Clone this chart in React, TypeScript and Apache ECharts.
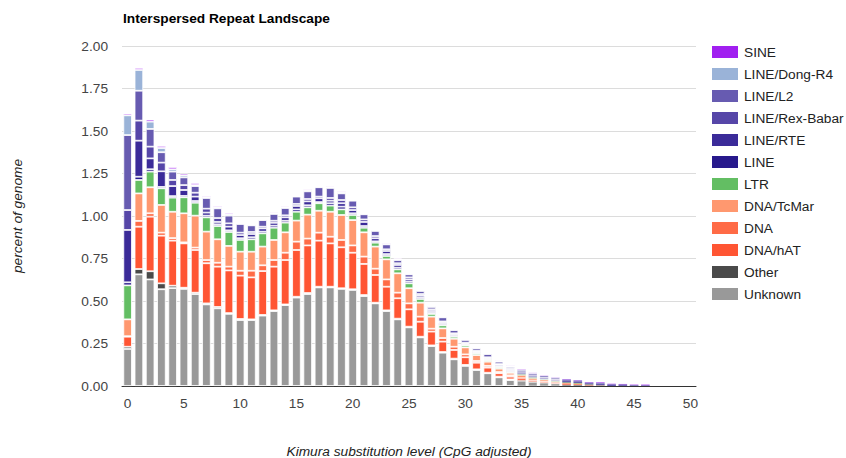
import React, { useEffect, useRef } from "react";
import * as echarts from "echarts";

// Kimura substitution level bins 0..50
const kimuraBins: string[] = Array.from({ length: 51 }, (_, i) => String(i));

// Percent of genome per repeat class, one value per bin (bottom of stack first)
const unknown = [
  0.218, 0.657, 0.627, 0.569, 0.576, 0.571, 0.541, 0.48, 0.457, 0.424,
  0.388, 0.388, 0.414, 0.441, 0.476, 0.52, 0.541, 0.58, 0.58, 0.571,
  0.565, 0.529, 0.486, 0.441, 0.392, 0.345, 0.286, 0.235, 0.196, 0.157,
  0.118, 0.094, 0.075, 0.051, 0.035, 0.029, 0.022, 0.018, 0.013, 0.008,
  0.006, 0.003, 0.002, 0, 0, 0, 0, 0, 0, 0, 0,
];
const other = [
  0.013, 0.031, 0.048, 0.035, 0.014, 0.007, 0.008, 0.006, 0.008, 0.005,
  0.006, 0.004, 0.004, 0.004, 0.004, 0.005, 0.006, 0.004, 0.004, 0.004,
  0.004, 0.006, 0.004, 0.004, 0.004, 0.004, 0.004, 0.004, 0.004, 0.004,
  0.006, 0.004, 0.003, 0.004, 0.004, 0.004, 0.003, 0.002, 0, 0,
  0, 0, 0, 0, 0, 0, 0, 0, 0, 0, 0,
];
const dnaHAT = [
  0.059, 0.249, 0.321, 0.28, 0.265, 0.261, 0.251, 0.236, 0.237, 0.251,
  0.255, 0.247, 0.258, 0.257, 0.261, 0.275, 0.28, 0.271, 0.255, 0.241,
  0.215, 0.183, 0.163, 0.139, 0.12, 0.102, 0.088, 0.081, 0.061, 0.051,
  0.045, 0.039, 0.03, 0.02, 0.016, 0.01, 0.006, 0.005, 0.004, 0.004,
  0.003, 0.002, 0.001, 0, 0, 0, 0, 0, 0, 0, 0,
];
const dna = [
  0.003, 0.034, 0.02, 0.018, 0.015, 0.006, 0.014, 0.019, 0.023, 0.022,
  0.029, 0.039, 0.034, 0.039, 0.043, 0.049, 0.04, 0.047, 0.039, 0.043,
  0.043, 0.043, 0.037, 0.043, 0.033, 0.035, 0.03, 0.017, 0.021, 0.019,
  0.017, 0.01, 0.01, 0.007, 0.008, 0.006, 0.004, 0.003, 0.003, 0.002,
  0.002, 0, 0, 0, 0, 0, 0, 0, 0, 0, 0,
];
const dnaTcMar = [
  0.099, 0.162, 0.153, 0.163, 0.155, 0.171, 0.188, 0.167, 0.138, 0.122,
  0.112, 0.112, 0.11, 0.118, 0.12, 0.124, 0.141, 0.129, 0.147, 0.147,
  0.149, 0.143, 0.13, 0.118, 0.114, 0.089, 0.082, 0.071, 0.057, 0.047,
  0.041, 0.035, 0.025, 0.02, 0.015, 0.014, 0.01, 0.008, 0.006, 0.005,
  0.004, 0.003, 0.001, 0, 0, 0, 0, 0, 0, 0, 0,
];
const ltr = [
  0.2, 0.079, 0.092, 0.098, 0.083, 0.094, 0.076, 0.084, 0.078, 0.082,
  0.069, 0.073, 0.078, 0.072, 0.057, 0.052, 0.043, 0.044, 0.036, 0.033,
  0.03, 0.027, 0.023, 0.02, 0.023, 0.029, 0.022, 0.016, 0.018, 0.012,
  0.012, 0.01, 0.008, 0.008, 0.006, 0.006, 0.006, 0.004, 0.004, 0.003,
  0.003, 0.002, 0.001, 0, 0, 0, 0, 0, 0, 0, 0,
];
const line = [
  0.018, 0.019, 0.014, 0.008, 0.009, 0.008, 0.01, 0.01, 0.01, 0.01,
  0.01, 0.012, 0.01, 0.012, 0.011, 0.014, 0.012, 0.007, 0.014, 0.016,
  0.01, 0.01, 0.008, 0.011, 0.01, 0.01, 0.01, 0.007, 0.008, 0.006,
  0.006, 0.006, 0.006, 0.006, 0.006, 0.006, 0.004, 0.003, 0.003, 0.003,
  0.003, 0.002, 0.003, 0.002, 0.002, 0, 0, 0, 0, 0, 0,
];
const lineRTE = [
  0.308, 0.212, 0.064, 0.092, 0.059, 0.035, 0.026, 0.018, 0.014, 0.021,
  0.019, 0.019, 0.019, 0.017, 0.02, 0.02, 0.023, 0.022, 0.015, 0.02,
  0.019, 0.024, 0.018, 0.018, 0.016, 0.013, 0.011, 0.01, 0.008, 0.008,
  0.006, 0.006, 0.006, 0.008, 0.006, 0.005, 0.006, 0.005, 0.004, 0.004,
  0.004, 0.003, 0.004, 0.004, 0.003, 0.002, 0.002, 0, 0, 0, 0,
];
const lineRexBabar = [
  0.117, 0.118, 0.069, 0.051, 0.036, 0.029, 0.023, 0.023, 0.023, 0.02,
  0.014, 0.012, 0.01, 0.012, 0.012, 0.012, 0.014, 0.01, 0.016, 0.019,
  0.016, 0.015, 0.013, 0.01, 0.01, 0.012, 0.008, 0.01, 0.007, 0.006,
  0.004, 0.004, 0.006, 0.005, 0.006, 0.004, 0.004, 0.004, 0.003, 0.003,
  0.002, 0.002, 0.002, 0.002, 0.002, 0.001, 0, 0, 0, 0, 0,
];
const lineL2 = [
  0.441, 0.176, 0.104, 0.061, 0.049, 0.045, 0.039, 0.063, 0.057, 0.045,
  0.051, 0.039, 0.039, 0.04, 0.043, 0.043, 0.045, 0.055, 0.059, 0.039,
  0.039, 0.03, 0.03, 0.029, 0.019, 0.018, 0.018, 0.014, 0.024, 0.019,
  0.016, 0.014, 0.019, 0.014, 0.01, 0.008, 0.008, 0.008, 0.007, 0.005,
  0.004, 0.003, 0.003, 0.003, 0.003, 0.003, 0.003, 0, 0, 0, 0,
];
const lineDongR4 = [
  0.116, 0.122, 0.043, 0.025, 0.014, 0.012, 0.006, 0.006, 0.006, 0.008,
  0.004, 0.004, 0.004, 0.004, 0.004, 0.004, 0.006, 0.004, 0.004, 0.006,
  0.004, 0.004, 0.006, 0.004, 0.004, 0.004, 0.004, 0.006, 0.004, 0.004,
  0.004, 0.003, 0.004, 0.004, 0.004, 0.004, 0.002, 0.002, 0.003, 0.002,
  0.002, 0.001, 0.002, 0, 0, 0, 0, 0, 0, 0, 0,
];
const sine = [
  0.01, 0.012, 0.012, 0.012, 0.013, 0.01, 0.012, 0.008, 0.008, 0.008,
  0.004, 0.004, 0.004, 0.006, 0.006, 0.005, 0.006, 0.003, 0.006, 0.006,
  0.004, 0.004, 0.004, 0.006, 0.006, 0.004, 0.004, 0.004, 0.004, 0.004,
  0.003, 0.004, 0.004, 0.006, 0.006, 0.004, 0.003, 0.003, 0.003, 0.002,
  0.002, 0.002, 0.003, 0.002, 0.002, 0.002, 0.003, 0, 0, 0, 0,
];

// Stack order, bottom to top
const repeatClasses: { name: string; color: string; values: number[] }[] = [
  { name: "Unknown", color: "#999999", values: unknown },
  { name: "Other", color: "#4a4a4a", values: other },
  { name: "DNA/hAT", color: "#ff5533", values: dnaHAT },
  { name: "DNA", color: "#ff6b46", values: dna },
  { name: "DNA/TcMar", color: "#ff986f", values: dnaTcMar },
  { name: "LTR", color: "#63be63", values: ltr },
  { name: "LINE", color: "#27198c", values: line },
  { name: "LINE/RTE", color: "#3b2b99", values: lineRTE },
  { name: "LINE/Rex-Babar", color: "#5646a8", values: lineRexBabar },
  { name: "LINE/L2", color: "#675bb1", values: lineL2 },
  { name: "LINE/Dong-R4", color: "#9ab3d8", values: lineDongR4 },
  { name: "SINE", color: "#a11ff0", values: sine },
];

const FONT = 'Arial, "Liberation Sans", sans-serif';
const FS = 13.7;

// total height of each bin's stack, used to thin the outlines on short bars
const binTotals = kimuraBins.map((_, i) =>
  repeatClasses.reduce((s, c) => s + c.values[i], 0)
);

function outlineWidth(total: number): number {
  if (total < 0.05) return 0;
  if (total < 0.12) return 0.3;
  return 0.8;
}

export default function App() {
  const ref = useRef<HTMLDivElement>(null);

  useEffect(() => {
    if (!ref.current) return;
    const chart = echarts.init(ref.current, undefined, { renderer: "svg" });
    chart.setOption({
      animation: false,
      backgroundColor: "#ffffff",
      textStyle: { fontFamily: FONT },
      title: {
        text: "Interspersed Repeat Landscape",
        left: 118,
        top: 6,
        textStyle: { fontSize: FS, fontWeight: "bold", color: "#000", fontFamily: FONT },
      },
      legend: {
        orient: "vertical",
        left: 705,
        top: 39,
        itemWidth: 28,
        itemHeight: 14,
        itemGap: 6,
        icon: "rect",
        data: repeatClasses.map((c) => c.name).reverse(),
        textStyle: { fontSize: FS, color: "#222", fontFamily: FONT },
      },
      grid: { left: 122, right: 150, top: 46, bottom: 72, outerBoundsMode: "none" },
      xAxis: {
        type: "category",
        data: kimuraBins,
        name: "Kimura substitution level (CpG adjusted)",
        nameLocation: "middle",
        nameGap: 58,
        nameTextStyle: { fontSize: FS, fontStyle: "italic", color: "#222", fontFamily: FONT },
        axisTick: { show: false },
        axisLine: { lineStyle: { color: "#333", width: 1 } },
        axisLabel: { interval: 4, color: "#444", fontSize: FS, margin: 10, fontFamily: FONT },
      },
      yAxis: {
        type: "value",
        min: 0,
        max: 2,
        interval: 0.25,
        name: "percent of genome",
        nameLocation: "middle",
        nameGap: 98,
        nameTextStyle: { fontSize: FS, fontStyle: "italic", color: "#222", fontFamily: FONT },
        axisLine: { show: false },
        axisTick: { show: false },
        axisLabel: {
          color: "#444",
          fontSize: FS,
          margin: 14,
          fontFamily: FONT,
          formatter: (v: number) => v.toFixed(2),
        },
        splitLine: { lineStyle: { color: "#dcdcdc", width: 1 } },
      },
      series: repeatClasses.map((c) => ({
        name: c.name,
        type: "bar",
        stack: "total",
        // empty bins are left out so they draw no outline
        data: c.values.map((v, i) =>
          v === 0
            ? null
            : binTotals[i] < 0.12
            ? { value: v, itemStyle: { borderWidth: outlineWidth(binTotals[i]) } }
            : v
        ),
        barCategoryGap: "24%",
        itemStyle: { color: c.color, borderColor: "#ffffff", borderWidth: 0.8 },
        emphasis: { disabled: true },
      })),
    });
    return () => chart.dispose();
  }, []);

  return (
    <div
      ref={ref}
      style={{ position: "fixed", left: 0, top: 0, width: 846, height: 458 }}
    />
  );
}
